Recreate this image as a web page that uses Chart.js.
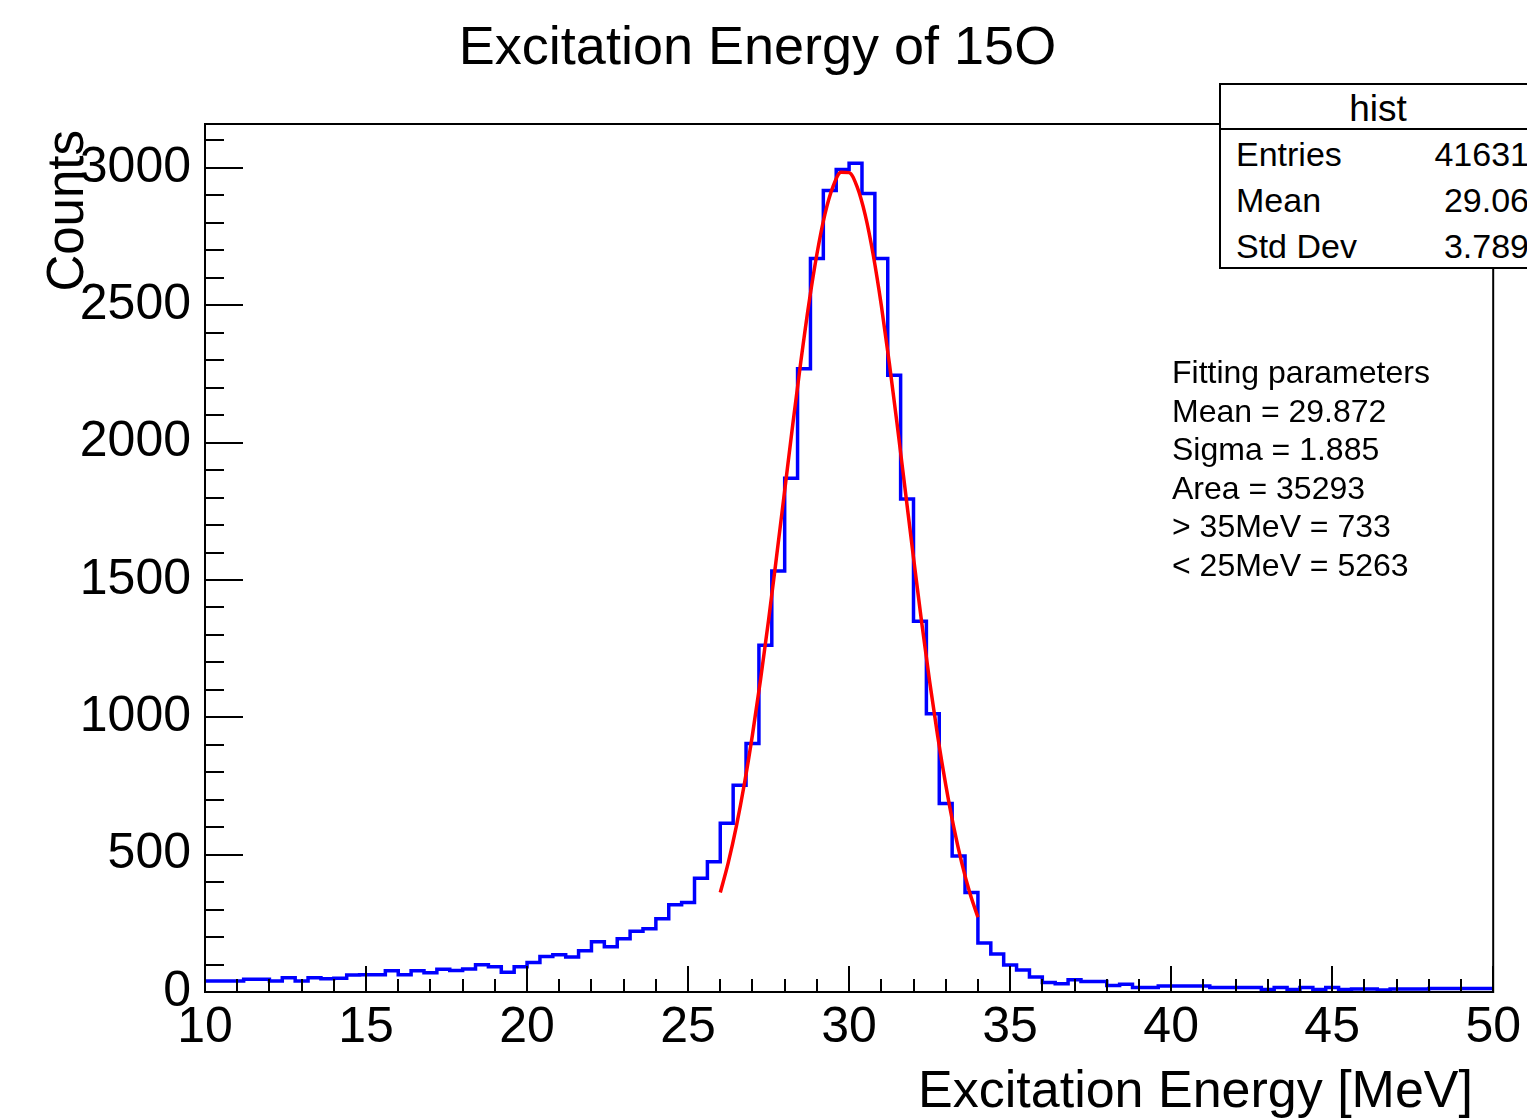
<!DOCTYPE html>
<html>
<head>
<meta charset="utf-8">
<title>Excitation Energy of 15O</title>
<script src="https://cdn.jsdelivr.net/npm/chart.js@4.4.1/dist/chart.umd.min.js"></script>
<style>
  html, body { margin: 0; padding: 0; background: #fff; overflow: hidden; }
  #wrap { position: relative; width: 1527px; height: 1119px; font-family: "Liberation Sans", Arial, sans-serif; color: #000; }
  #chart { position: absolute; left: 0; top: 0; }
  .txt { position: absolute; line-height: 1; white-space: nowrap; }
  #statBox { position: absolute; left: 1219px; top: 83px; width: 318px; height: 182px; border: 2px solid #000; background: #fff; }
  #statLine { position: absolute; left: 1219px; top: 128px; width: 320px; height: 2px; background: #000; }
</style>
</head>
<body>
<div id="wrap">
  <canvas id="chart" width="1527" height="1119"></canvas>

  <div class="txt" style="left:0; width:1515px; text-align:center; top:18px; font-size:54px;">Excitation Energy of 15O</div>

  <div id="statBox"></div>
  <div id="statLine"></div>
  <div class="txt" style="left:1219px; width:318px; text-align:center; top:90px; font-size:37px;">hist</div>
  <div id="statRows"></div>

  <div class="txt" style="left:1172px; top:353px; font-size:32px; line-height:38.5px; white-space:pre;" id="fitText"></div>

  <div class="txt" style="right:54px; top:1063px; font-size:52px;">Excitation Energy [MeV]</div>
  <div class="txt" style="left:0; top:0; width:300px; text-align:right; font-size:51px; transform-origin:0 0; transform:translate(40px,430px) rotate(-90deg);">Counts</div>
</div>

<script>
// histogram: 100 bins of 0.4 MeV from 10 to 50 MeV
const xMin = 10;
const xMax = 50;
const binWidth = 0.4;
const counts = [
  40, 40, 40, 46, 46, 40, 52, 40, 52, 48,
  50, 62, 63, 63, 77, 63, 77, 70, 83, 78,
  84, 99, 92, 72, 92, 107, 129, 136, 127, 150,
  183, 165, 194, 221, 230, 267, 318, 326, 414, 474,
  614, 753, 905, 1262, 1533, 1870, 2269, 2670, 2918, 2994,
  3017, 2907, 2670, 2245, 1795, 1350, 1013, 686, 495, 362,
  178, 138, 98, 80, 55, 35, 30, 45, 38, 38,
  24, 28, 16, 16, 22, 22, 22, 22, 16, 16,
  16, 16, 9, 16, 9, 16, 9, 16, 9, 11,
  11, 7, 11, 11, 11, 13, 13, 13, 13, 13
];

// red fit curve (26 - 34 MeV)
const fitX = [26, 26.25, 26.5, 26.75, 27, 27.25, 27.5, 27.75, 28, 28.25, 28.5, 28.75,
  29, 29.25, 29.5, 29.75, 30, 30.25, 30.5, 30.75, 31, 31.25, 31.5, 31.75,
  32, 32.25, 32.5, 32.75, 33, 33.25, 33.5, 33.75, 34];
const fitY = [362, 472, 604, 759, 937, 1137, 1354, 1587, 1826, 2065, 2294, 2505,
  2686, 2832, 2932, 2984, 2983, 2931, 2829, 2683, 2500, 2289, 2059, 1820,
  1581, 1349, 1131, 932, 755, 600, 469, 360, 272];

const yMax = 3160;
const yTickLabels = [0, 500, 1000, 1500, 2000, 2500, 3000];
const xTickLabels = [10, 15, 20, 25, 30, 35, 40, 45, 50];
const statNames = ['Entries', 'Mean', 'Std Dev'];
const statValues = ['41631', '29.06', '3.789'];
const fitLines = ['Fitting parameters', 'Mean = 29.872', 'Sigma = 1.885', 'Area = 35293', '> 35MeV = 733', '< 25MeV = 5263'];

let fitText = document.getElementById('fitText');
fitText.textContent = fitLines.join('\n');

let statRows = document.getElementById('statRows');
for(let i = 0; i < statNames.length; i++){
    let top = 137 + i * 46;
    let n = document.createElement('div');
    n.className = 'txt';
    n.style.cssText = 'left:1236px; top:' + top + 'px; font-size:34px;';
    n.textContent = statNames[i];
    let v = document.createElement('div');
    v.className = 'txt';
    v.style.cssText = 'right:-2px; top:' + top + 'px; font-size:34px;';
    v.textContent = statValues[i];
    statRows.appendChild(n);
    statRows.appendChild(v);
}

// step outline: a point at each bin's low edge, flat until the next edge
let histPoints = [];
for(let i = 0; i < counts.length; i++){
    histPoints.push({x: xMin + i * binWidth, y: counts[i]});
}
histPoints.push({x: xMax, y: counts[counts.length - 1]});

let fitPoints = fitX.map((x, i) => ({x: x, y: fitY[i]}));

// ROOT style frame with inward ticks
const frameTicks = {
    id: 'frameTicks',
    afterDatasetsDraw(chart){
        let ctx = chart.ctx;
        let a = chart.chartArea;
        let xs = chart.scales.x;
        let ys = chart.scales.y;
        ctx.save();
        ctx.strokeStyle = '#000';
        ctx.lineWidth = 2;
        ctx.beginPath();
        for(let v = xMin; v <= xMax; v += 1){
            let px = Math.round(xs.getPixelForValue(v));
            let len = (v % 5 == 0) ? 26 : 13;
            ctx.moveTo(px, a.bottom);
            ctx.lineTo(px, a.bottom - len);
        }
        for(let v = 0; v <= yMax; v += 100){
            let py = Math.round(ys.getPixelForValue(v));
            let len = (v % 500 == 0) ? 38 : 19;
            ctx.moveTo(a.left, py);
            ctx.lineTo(a.left + len, py);
        }
        ctx.stroke();
        ctx.strokeRect(a.left, a.top, a.right - a.left, a.bottom - a.top);
        ctx.restore();
    }
};

let tickFont = {family: 'Liberation Sans', size: 50};

let config = {
    type: 'line',
    data: {
        datasets: [
            {
                data: fitPoints,
                borderColor: '#ff0000',
                borderWidth: 3.5,
                pointRadius: 0,
                fill: false,
                cubicInterpolationMode: 'monotone',
                order: 0
            },
            {
                data: histPoints,
                borderColor: '#0000ff',
                borderWidth: 3.5,
                pointRadius: 0,
                fill: false,
                stepped: 'before',
                order: 1
            }
        ]
    },
    options: {
        responsive: false,
        animation: false,
        events: [],
        layout: {padding: {left: 0, right: 32, top: 124, bottom: 0}},
        plugins: {
            legend: {display: false},
            tooltip: {enabled: false}
        },
        scales: {
            x: {
                type: 'linear',
                min: xMin,
                max: xMax,
                grid: {display: false, drawTicks: false},
                border: {display: false},
                ticks: {color: '#000', font: tickFont, padding: 6, maxRotation: 0, autoSkip: false,
                    callback: (v) => String(v)},
                afterBuildTicks: (s) => { s.ticks = xTickLabels.map(v => ({value: v})); },
                afterFit: (s) => { s.height = 127; }
            },
            y: {
                min: 0,
                max: yMax,
                grid: {display: false, drawTicks: false},
                border: {display: false},
                ticks: {color: '#000', font: tickFont, padding: 14, autoSkip: false,
                    callback: (v) => String(v)},
                afterBuildTicks: (s) => { s.ticks = yTickLabels.map(v => ({value: v})); },
                afterFit: (s) => { s.width = 205; }
            }
        }
    },
    plugins: [frameTicks]
};

let chart = new Chart(document.getElementById('chart').getContext('2d'), config);
</script>
</body>
</html>
